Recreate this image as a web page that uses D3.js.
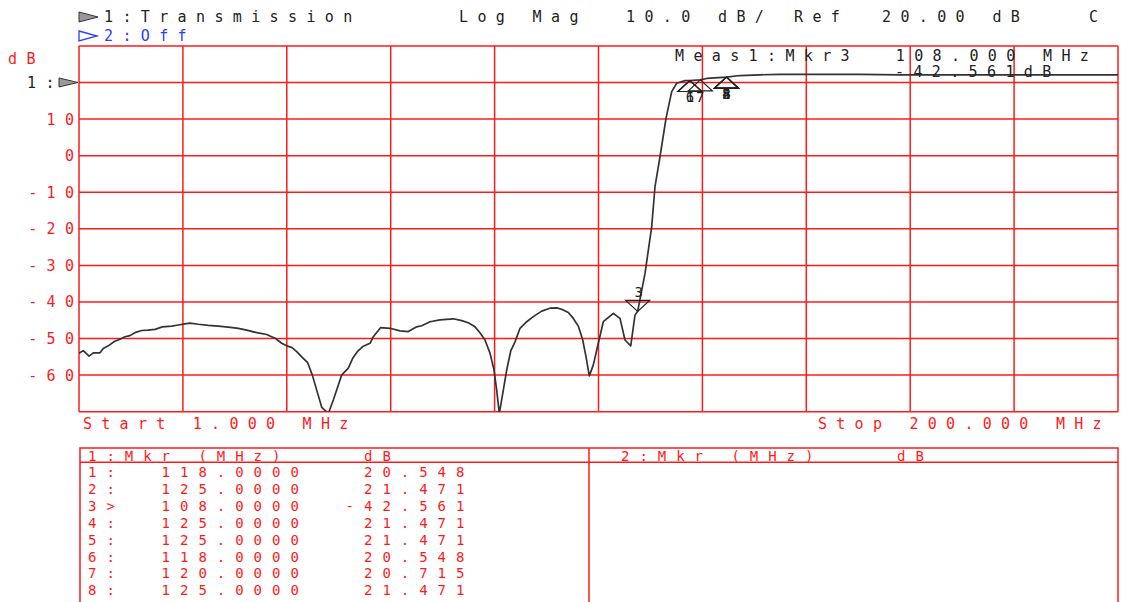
<!DOCTYPE html>
<html>
<head>
<meta charset="utf-8">
<script src="https://cdn.jsdelivr.net/npm/d3@7"></script>
<style>
  html, body { margin: 0; padding: 0; background: #fff; }
  svg text { font-family: "DejaVu Sans Mono", "Liberation Mono", monospace; white-space: pre; }
</style>
</head>
<body>
<svg id="chart" width="1130" height="602"></svg>
<script>
// ---------- data ----------
const freqMHz = [1.0, 1.82, 2.92, 3.74, 5.02, 5.65, 6.61, 7.76, 8.85, 9.81, 10.77, 11.86, 13.01, 14.16, 15.56, 16.95, 18.76, 20.02, 21.30, 22.26, 23.85, 25.77, 27.68, 29.60, 31.51, 33.12, 35.04, 36.95, 38.54, 39.82, 40.78, 41.74, 42.70, 43.66, 44.80, 45.69, 46.53, 47.49, 48.75, 49.71, 50.67, 51.30, 52.58, 53.42, 54.30, 55.34, 56.74, 57.37, 58.79, 60.57, 62.48, 64.07, 65.68, 66.64, 68.23, 70.14, 72.69, 74.30, 75.56, 76.85, 77.80, 78.76, 79.72, 80.49, 81.00, 81.50, 82.27, 82.92, 83.69, 84.51, 85.47, 86.75, 88.01, 89.62, 91.21, 92.50, 93.45, 94.72, 95.68, 96.63, 97.48, 98.11, 98.74, 99.51, 100.46, 101.42, 103.34, 104.62, 105.58, 106.67, 107.49, 108.0, 109.41, 110.69, 111.32, 112.28, 113.43, 114.52, 115.48, 117.07, 118.0, 120.0, 121.23, 125.0, 127.60, 131.43, 135.26, 139.09, 144.84, 150.59, 158.25, 167.83, 177.40, 186.98, 200.0];
const transDb = [-54.0, -53.3, -54.8, -53.9, -53.9, -52.7, -52.0, -50.8, -50.2, -49.5, -49.2, -48.3, -47.8, -47.7, -47.5, -46.8, -46.6, -46.3, -46.0, -45.8, -46.1, -46.4, -46.6, -46.9, -47.2, -47.7, -48.4, -48.9, -49.9, -51.3, -52.0, -52.4, -53.6, -55.0, -56.6, -60.0, -64.1, -68.8, -70.5, -66.8, -62.7, -60.0, -58.1, -55.4, -53.6, -52.2, -51.3, -49.5, -47.0, -47.2, -47.9, -48.1, -46.8, -46.5, -45.4, -44.9, -44.6, -45.1, -45.7, -46.8, -48.4, -50.4, -54.0, -58.6, -64.1, -70.5, -64.1, -58.6, -53.4, -50.9, -47.2, -45.4, -44.0, -42.5, -41.7, -41.6, -42.0, -42.9, -44.5, -46.6, -50.4, -55.0, -60.2, -57.2, -51.3, -45.4, -43.1, -44.5, -50.4, -52.0, -43.6, -42.561, -32.2, -19.4, -8.5, -0.3, 10.2, 17.5, 19.8, 20.5, 20.548, 20.715, 21.1, 21.471, 21.9, 22.1, 22.2, 22.2, 22.2, 22.2, 22.1, 22.1, 22.1, 22.1, 22.1];

const yTickValues = [10, 0, -10, -20, -30, -40, -50, -60];
const xStartMHz = 1, xStopMHz = 200, yBottomDb = -70, yTopDb = 30, refDb = 20;

const markerIds   = ["1", "2", "3", "4", "5", "6", "7", "8"];
const markerFreq  = [118, 125, 108, 125, 125, 118, 120, 125];
const markerDb    = [20.548, 21.471, -42.561, 21.471, 21.471, 20.548, 20.715, 21.471];
const activeMarker = "3";

const headerLeft = "1:Transmission";
const headerTrace2 = "2:Off";
const headerItems = ["Log Mag", "10.0 dB/", "Ref", "20.00 dB", "C"];
const startLabel = "Start 1.000 MHz";
const stopLabel = "Stop 200.000 MHz";
const measLine1 = "Meas1:Mkr3  108.000 MHz";
const measLine2 = "-42.561dB";
const tableHead1 = "1:Mkr (MHz)    dB";
const tableHead2 = "2:Mkr (MHz)    dB";

// ---------- layout ----------
const svg = d3.select("#chart");
const L = 79, R = 1118, T = 45.9, B = 411.7;
const x = d3.scaleLinear().domain([xStartMHz, xStopMHz]).range([L, R]);
const y = d3.scaleLinear().domain([yBottomDb, yTopDb]).range([B, T]);
const RED = "#ff1a1a";
const PITCH = 18.4;

svg.append("rect").attr("width", 1130).attr("height", 602).attr("fill", "#fff");

function spacedText(g, str, xx, yy, color, size, pitch) {
  const adv = 0.602 * size;
  return g.append("text").attr("x", xx).attr("y", yy)
    .attr("font-size", size)
    .attr("letter-spacing", (pitch - adv).toFixed(2))
    .attr("fill", color).text(str);
}

// grid
const grid = svg.append("g");
const vTicks = d3.range(0, 11).map(i => xStartMHz + i * (xStopMHz - xStartMHz) / 10);
const hTicks = d3.range(yBottomDb, yTopDb + 1, 10);
grid.selectAll("line.v").data(vTicks).join("line")
  .attr("x1", d => x(d)).attr("x2", d => x(d)).attr("y1", T).attr("y2", B)
  .attr("stroke", RED).attr("stroke-width", 1.5);
grid.selectAll("line.h").data(hTicks).join("line")
  .attr("x1", L).attr("x2", R).attr("y1", d => y(d)).attr("y2", d => y(d))
  .attr("stroke", RED).attr("stroke-width", 1.5);

// y labels
const ylab = svg.append("g");
yTickValues.forEach(v => {
  const s = String(v);
  spacedText(ylab, s, 65 - (s.length - 1) * PITCH, y(v) + 5.5, RED, 15, PITCH);
});
spacedText(svg, "dB", 8, 64, RED, 15, 18.4);
spacedText(svg, "1:", 27, y(refDb) + 5.5, "#222", 15, 18.4);
// ref pointer
svg.append("path")
  .attr("d", `M59,${y(refDb) - 4.5} L78,${y(refDb)} L59,${y(refDb) + 4.5} Z`)
  .attr("fill", "#999").attr("stroke", "#333").attr("stroke-width", 1);

// header
svg.append("path").attr("d", "M79,12 L98,17 L79,22 Z")
  .attr("fill", "#999").attr("stroke", "#333").attr("stroke-width", 1);
spacedText(svg, headerLeft, 104, 22, "#222", 15, PITCH);
svg.append("path").attr("d", "M79,31 L97,36 L79,41 Z")
  .attr("fill", "none").attr("stroke", "#2a3cff").attr("stroke-width", 1.3);
spacedText(svg, headerTrace2, 104, 41, "#2a3cff", 15, PITCH);
const headerX = [459, 626, 794, 882, 1089];
headerItems.forEach((s, i) => spacedText(svg, s, headerX[i], 22, "#222", 15, PITCH));

// trace
const clip = svg.append("clipPath").attr("id", "plotclip");
clip.append("rect").attr("x", L).attr("y", T).attr("width", R - L).attr("height", B - T);
const pts = freqMHz.map((f, i) => [f, transDb[i]]);
const line = d3.line().x(d => x(d[0])).y(d => y(d[1]));
svg.append("path").datum(pts).attr("d", line)
  .attr("clip-path", "url(#plotclip)")
  .attr("fill", "none").attr("stroke", "#333").attr("stroke-width", 1.7)
  .attr("stroke-linejoin", "round");

// meas annotation
spacedText(svg, measLine1, 675, 61, "#222", 15, PITCH);
spacedText(svg, measLine2, 895, 77, "#222", 15, PITCH);

// markers
const mk = svg.append("g");
markerIds.forEach((id, i) => {
  const px = x(markerFreq[i]), py = y(markerDb[i]);
  if (id === activeMarker) {
    mk.append("path").attr("d", `M${px},${py} L${px - 12},${py - 11} L${px + 12},${py - 11} Z`)
      .attr("fill", "none").attr("stroke", "#222").attr("stroke-width", 1.2);
    mk.append("text").attr("x", px + 1).attr("y", py - 14).attr("font-size", 14)
      .attr("text-anchor", "middle").attr("fill", "#222").text(id);
  } else {
    mk.append("path").attr("d", `M${px},${py} L${px - 12},${py + 11} L${px + 12},${py + 11} Z`)
      .attr("fill", "none").attr("stroke", "#222").attr("stroke-width", 1.2);
    mk.append("text").attr("x", px).attr("y", py + 22).attr("font-size", 14)
      .attr("text-anchor", "middle").attr("fill", "#222").text(id);
  }
});

// start/stop
spacedText(svg, startLabel, 83, 429, RED, 15, 18.3);
spacedText(svg, stopLabel, 818, 429, RED, 15, 18.3);

// table
const tb = svg.append("g");
const tT = 448, tH = 462.3, tDiv = 589, tBottom = 610;
tb.append("rect").attr("x", 80).attr("y", tT).attr("width", 1118 - 80).attr("height", tBottom - tT)
  .attr("fill", "none").attr("stroke", RED).attr("stroke-width", 1.5);
tb.append("line").attr("x1", 80).attr("x2", 1118).attr("y1", tH).attr("y2", tH)
  .attr("stroke", RED).attr("stroke-width", 1.5);
tb.append("line").attr("x1", tDiv).attr("x2", tDiv).attr("y1", tT).attr("y2", tBottom)
  .attr("stroke", RED).attr("stroke-width", 1.5);
spacedText(tb, tableHead1, 88, 460.5, RED, 14, PITCH);
spacedText(tb, tableHead2, 621, 460.5, RED, 14, PITCH);
markerIds.forEach((id, i) => {
  const lab = id + (id === activeMarker ? ">" : ":");
  const f = markerFreq[i].toFixed(4).padStart(8, " ");
  const v = markerDb[i].toFixed(3).padStart(7, " ");
  const row = lab + "  " + f + "  " + v;
  spacedText(tb, row, 88, 477 + i * 16.9, RED, 14, PITCH);
});
</script>
</body>
</html>
